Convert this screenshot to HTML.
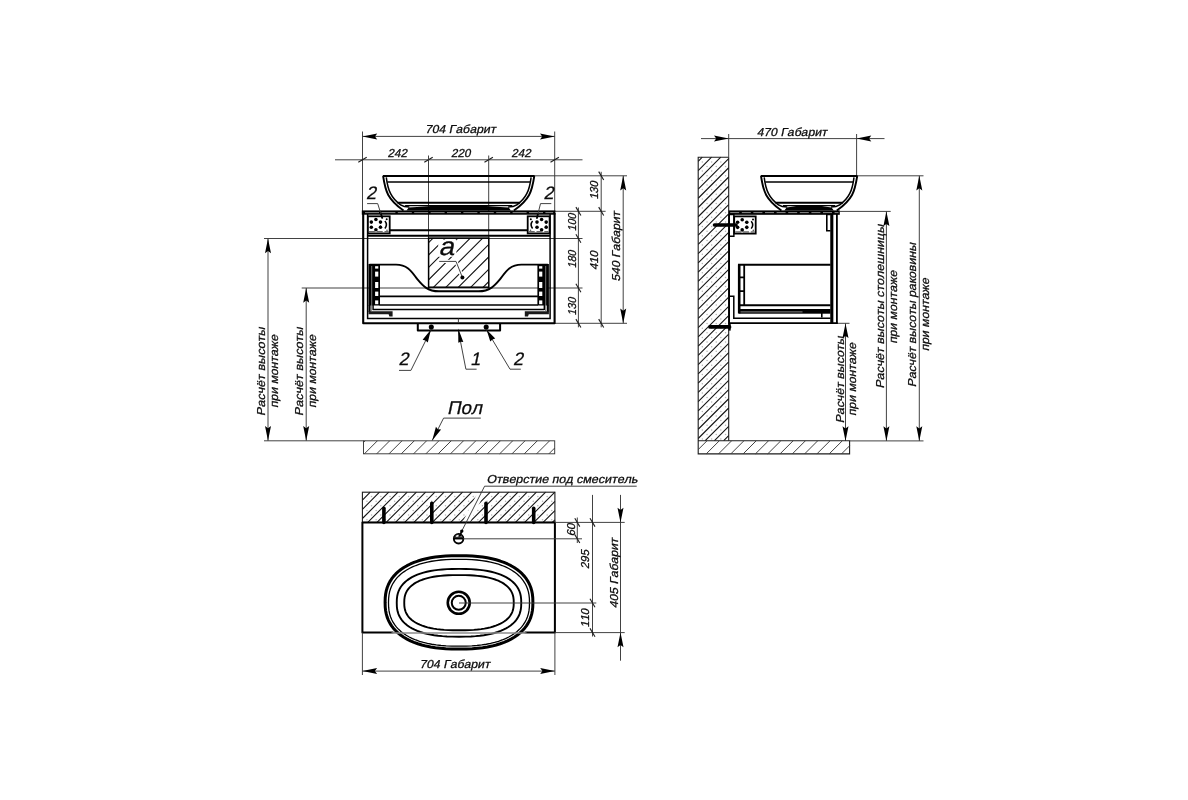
<!DOCTYPE html>
<html lang="ru">
<head>
<meta charset="utf-8">
<title>Схема монтажа тумбы с раковиной</title>
<style>
html,body{margin:0;padding:0;background:#fff;}
body{width:1188px;height:800px;overflow:hidden;}
svg{display:block;will-change:transform;}
text{font-family:"Liberation Sans",sans-serif;fill:#0c0c0c;stroke:#0c0c0c;stroke-width:.28px;font-kerning:none;}
.t{stroke:#383838;stroke-width:.95;fill:none;}
.k{stroke:#1c1c1c;stroke-width:1.1;fill:none;}
.h{stroke:#151515;stroke-width:1.1;fill:none;}
.m{stroke:#000;stroke-width:1.4;fill:none;}
.b{stroke:#000;stroke-width:2;fill:none;stroke-linejoin:round;}
.bb{stroke:#000;stroke-width:2.4;fill:none;stroke-linejoin:round;stroke-linecap:round;}
.f{fill:#000;stroke:none;}
.w{fill:#fff;stroke:none;}
.dot{fill:#b4b4b4;stroke:none;}
</style>
</head>
<body>
<svg width="1188" height="800" viewBox="0 0 1188 800">
<rect width="1188" height="800" fill="#fff"/>
<path class="t" d="M362.50 131.50L362.50 211.00" />
<path class="t" d="M554.70 131.50L554.70 211.00" />
<path class="t" d="M362.50 136.40L554.70 136.40" />
<path class="f" d="M362.50 136.40L377.20 139.40L375.00 136.40L377.20 133.40Z"/>
<path class="f" d="M554.70 136.40L540.00 133.40L542.21 136.40L540.00 139.40Z"/>
<text transform="translate(424.90 133.20) skewX(-12)" font-size="11.5" text-anchor="start" textLength="70.70" lengthAdjust="spacingAndGlyphs" >704 Габарит</text>
<path class="t" d="M335.00 159.80L582.50 159.80" />
<path class="k" d="M358.30 162.30L366.70 157.30" />
<path class="k" d="M424.30 162.30L432.70 157.30" />
<path class="k" d="M484.50 162.30L492.90 157.30" />
<path class="k" d="M550.50 162.30L558.90 157.30" />
<text transform="translate(387.40 157.20) skewX(-12)" font-size="11.5" text-anchor="start" textLength="19.50" lengthAdjust="spacingAndGlyphs" >242</text>
<text transform="translate(451.10 157.20) skewX(-12)" font-size="11.5" text-anchor="start" textLength="19.50" lengthAdjust="spacingAndGlyphs" >220</text>
<text transform="translate(511.20 157.20) skewX(-12)" font-size="11.5" text-anchor="start" textLength="19.50" lengthAdjust="spacingAndGlyphs" >242</text>
<path class="t" d="M428.50 155.50L428.50 238.50" />
<path class="t" d="M488.70 155.50L488.70 238.50" />
<path class="t" d="M534.00 175.80L627.00 175.80" />
<path class="t" d="M554.70 211.30L605.60 211.30" />
<path class="t" d="M264.00 238.50L582.50 238.50" />
<path class="t" d="M301.70 288.00L582.50 288.00" />
<path class="t" d="M554.70 323.30L627.00 323.30" />
<path class="t" d="M578.40 207.50L578.40 327.30" />
<path class="k" d="M575.90 207.10L580.90 215.50" />
<path class="k" d="M575.90 234.30L580.90 242.70" />
<path class="k" d="M575.90 283.80L580.90 292.20" />
<path class="k" d="M575.90 319.10L580.90 327.50" />
<path class="t" d="M601.20 171.80L601.20 327.30" />
<path class="k" d="M598.70 171.60L603.70 180.00" />
<path class="k" d="M598.70 207.10L603.70 215.50" />
<path class="k" d="M598.70 319.10L603.70 327.50" />
<path class="t" d="M623.20 175.80L623.20 323.30" />
<path class="f" d="M623.20 175.80L620.20 190.50L623.20 188.30L626.20 190.50Z"/>
<path class="f" d="M623.20 323.30L626.20 308.60L623.20 310.81L620.20 308.60Z"/>
<text transform="translate(598.30 199.60) rotate(-90) skewX(-12)" font-size="11.5" text-anchor="start" textLength="18.30" lengthAdjust="spacingAndGlyphs" >130</text>
<text transform="translate(576.10 231.20) rotate(-90) skewX(-12)" font-size="11.5" text-anchor="start" textLength="17.70" lengthAdjust="spacingAndGlyphs" >100</text>
<text transform="translate(576.10 268.20) rotate(-90) skewX(-12)" font-size="11.5" text-anchor="start" textLength="17.70" lengthAdjust="spacingAndGlyphs" >180</text>
<text transform="translate(576.10 315.40) rotate(-90) skewX(-12)" font-size="11.5" text-anchor="start" textLength="17.70" lengthAdjust="spacingAndGlyphs" >130</text>
<text transform="translate(598.30 270.00) rotate(-90) skewX(-12)" font-size="11.5" text-anchor="start" textLength="18.80" lengthAdjust="spacingAndGlyphs" >410</text>
<text transform="translate(620.00 281.60) rotate(-90) skewX(-12)" font-size="11.5" text-anchor="start" textLength="70.00" lengthAdjust="spacingAndGlyphs" >540 Габарит</text>
<path class="t" d="M268.00 238.50L268.00 440.80" />
<path class="f" d="M268.00 238.50L265.00 253.20L268.00 251.00L271.00 253.20Z"/>
<path class="f" d="M268.00 440.80L271.00 426.10L268.00 428.31L265.00 426.10Z"/>
<path class="t" d="M306.20 288.00L306.20 440.80" />
<path class="f" d="M306.20 288.00L303.20 302.70L306.20 300.50L309.20 302.70Z"/>
<path class="f" d="M306.20 440.80L309.20 426.10L306.20 428.31L303.20 426.10Z"/>
<text transform="translate(265.30 416.00) rotate(-90) skewX(-12)" font-size="11.5" text-anchor="start" textLength="88.60" lengthAdjust="spacingAndGlyphs" >Расчёт высоты</text>
<text transform="translate(277.70 408.00) rotate(-90) skewX(-12)" font-size="11.5" text-anchor="start" textLength="73.00" lengthAdjust="spacingAndGlyphs" >при монтаже</text>
<text transform="translate(303.40 416.00) rotate(-90) skewX(-12)" font-size="11.5" text-anchor="start" textLength="88.60" lengthAdjust="spacingAndGlyphs" >Расчёт высоты</text>
<text transform="translate(316.00 408.00) rotate(-90) skewX(-12)" font-size="11.5" text-anchor="start" textLength="73.00" lengthAdjust="spacingAndGlyphs" >при монтаже</text>
<path class="t" d="M264.00 440.80L363.50 440.80" />
<rect class="t" x="363.50" y="440.80" width="191.20" height="13.00" />
<path class="t" d="M363.50 442.40L365.10 440.80M364.40 453.80L377.40 440.80M376.70 453.80L389.70 440.80M389.00 453.80L402.00 440.80M401.30 453.80L414.30 440.80M413.60 453.80L426.60 440.80M425.90 453.80L438.90 440.80M438.20 453.80L451.20 440.80M450.50 453.80L463.50 440.80M462.80 453.80L475.80 440.80M475.10 453.80L488.10 440.80M487.40 453.80L500.40 440.80M499.70 453.80L512.70 440.80M512.00 453.80L525.00 440.80M524.30 453.80L537.30 440.80M536.60 453.80L549.60 440.80M548.90 453.80L554.70 448.00"/>
<text transform="translate(447.00 414.20) skewX(-12)" font-size="18.5" text-anchor="start" textLength="35.00" lengthAdjust="spacingAndGlyphs" >Пол</text>
<path class="t" d="M480.8 418.1L443.6 418.1L432.2 440.6" />
<path class="f" d="M432.20 440.60L441.11 429.42L437.89 429.36L435.94 426.80Z"/>
<clipPath id="ca"><rect x="428.6" y="238" width="60.2" height="49.2"/></clipPath>
<g clip-path="url(#ca)">
<path class="h" d="M420.00 238.80L428.80 230.00M420.00 251.20L441.20 230.00M420.00 263.60L453.60 230.00M420.00 276.00L466.00 230.00M420.00 288.40L478.40 230.00M425.80 295.00L490.80 230.00M438.20 295.00L495.00 238.20M450.60 295.00L495.00 250.60M463.00 295.00L495.00 263.00M475.40 295.00L495.00 275.40M487.80 295.00L495.00 287.80"/>
<rect class="w" x="438.2" y="239.6" width="18.2" height="17.2"/>
<path d="M439.2 261.4L456 261.4L462.4 277.4" stroke="#fff" stroke-width="3.4" fill="none"/>
</g>
<rect class="m" x="428.60" y="238.10" width="60.20" height="49.10" style="stroke-width:1.5"/>
<text transform="translate(438.40 254.50) skewX(-12)" font-size="25.5" text-anchor="start" textLength="15.40" lengthAdjust="spacingAndGlyphs" >a</text>
<path class="t" d="M439.2 261.4L456 261.4L462.4 277.4" />
<circle class="f" cx="462.40" cy="277.40" r="2.00" />
<path class="b" d="M383.10 176.00C385.50 191.80 387.70 199.30 403.50 210.60" style="stroke-width:1.9"/>
<path class="m" d="M386.30 177.30C387.90 190.80 391.50 198.40 400.50 204.80C402.80 206.40 405.30 207.10 409.30 207.10" style="stroke-width:1.5"/>
<path class="b" d="M534.30 176.00C531.90 191.80 529.70 199.30 513.90 210.60" style="stroke-width:1.9"/>
<path class="m" d="M531.10 177.30C529.50 190.80 525.90 198.40 516.90 204.80C514.60 206.40 512.10 207.10 508.10 207.10" style="stroke-width:1.5"/>
<path class="b" d="M382.80 176.00L534.60 176.00" style="stroke-width:2.2;stroke-linecap:butt"/>
<path class="m" d="M387.30 181.90L530.10 181.90" style="stroke-width:1.5"/>
<path class="m" d="M397.50 202.70L519.90 202.70" style="stroke-width:1.9"/>
<path class="m" d="M405.10 205.60L512.30 205.60" style="stroke-width:1.3"/>
<path class="f" d="M406.50 210.60L408.70 207.60C432.60 206.00 443.04 205.00 458.70 205.00C474.36 205.00 484.80 206.00 508.70 207.60L510.90 210.60Z" />
<rect class="f" x="361.80" y="210.40" width="193.60" height="4.30" />
<path class="t" d="M364.0 212.6L553.2 212.6" style="stroke:#8a8a8a;stroke-width:1;stroke-dasharray:14 2.4;stroke-dashoffset:-1"/>
<path class="b" d="M363.2 213L363.2 323.2L554.6 323.2L554.6 213" style="stroke-width:2.1"/>
<path class="m" d="M367.6 214L367.6 318.5L550.1 318.5L550.1 214" style="stroke-width:1.5"/>
<path class="m" d="M368.00 235.80L550.00 235.80" style="stroke-width:1.9"/>
<path class="m" d="M389.70 230.30L527.70 230.30" style="stroke-width:1.9"/>
<rect class="m" x="367.90" y="216.30" width="21.80" height="17.10" style="fill:#fff;stroke-width:1.8"/>
<circle class="f" cx="375.90" cy="229.75" r="1.80" />
<circle class="f" cx="380.49" cy="227.20" r="1.80" />
<circle class="f" cx="380.49" cy="222.10" r="1.80" />
<circle class="f" cx="375.90" cy="219.55" r="1.80" />
<circle class="f" cx="371.31" cy="222.10" r="1.80" />
<circle class="f" cx="371.31" cy="227.20" r="1.80" />
<path class="m" style="stroke-width:1.2" d="M380.49 227.20L380.49 222.10" stroke-dasharray="1.6 2 1.6 20"/>
<path class="m" style="stroke-width:1.5" d="M384.90 221.05Q387.90 224.65 384.90 228.45"/>
<circle class="f" cx="386.70" cy="219.25" r="1.00" />
<circle class="f" cx="387.00" cy="230.25" r="0.80" style="fill:#555"/>
<path d="M368.90 231.80L388.70 231.80" stroke="#6a6a6a" stroke-width="1.5" stroke-dasharray="6 1.8" fill="none"/>
<rect class="m" x="527.70" y="216.30" width="21.90" height="17.10" style="fill:#fff;stroke-width:1.8"/>
<circle class="f" cx="541.60" cy="229.75" r="1.80" />
<circle class="f" cx="546.19" cy="227.20" r="1.80" />
<circle class="f" cx="546.19" cy="222.10" r="1.80" />
<circle class="f" cx="541.60" cy="219.55" r="1.80" />
<circle class="f" cx="537.01" cy="222.10" r="1.80" />
<circle class="f" cx="537.01" cy="227.20" r="1.80" />
<path class="m" style="stroke-width:1.2" d="M546.19 227.20L546.19 222.10" stroke-dasharray="1.6 2 1.6 20"/>
<path class="m" style="stroke-width:1.5" d="M532.60 221.05Q529.60 224.65 532.60 228.45"/>
<circle class="f" cx="530.80" cy="219.25" r="1.00" />
<circle class="f" cx="530.50" cy="230.25" r="0.80" style="fill:#555"/>
<path d="M528.70 231.80L548.60 231.80" stroke="#6a6a6a" stroke-width="1.5" stroke-dasharray="6 1.8" fill="none"/>
<text transform="translate(366.00 199.00) skewX(-12)" font-size="18" text-anchor="start" >2</text>
<path class="t" d="M367.1 203.6L377.7 203.6L382.4 218.6" />
<path class="m" d="M380.90 213.80L382.40 218.60" style="stroke-width:1.8"/>
<text transform="translate(543.50 199.00) skewX(-12)" font-size="18" text-anchor="start" >2</text>
<path class="t" d="M551.3 203.6L540.5 203.6L536.8 218.6" />
<path class="m" d="M538.00 213.80L536.80 218.60" style="stroke-width:1.8"/>
<path class="b" d="M369.5 264.6L396 264.6C409 264.6 413 274 417.5 279.4C422 284.8 427 291.3 439 291.3L478.4 291.3C490.4 291.3 495.4 284.8 499.9 279.4C504.4 274 508.4 264.6 521.4 264.6L547.9 264.6" style="stroke-width:1.9"/>
<rect class="f" x="368.50" y="264.00" width="11.50" height="41.50" />
<rect class="f" x="371.20" y="266.00" width="1.00" height="45.00" style="fill:#777"/>
<rect class="w" x="375.10" y="266.20" width="3.20" height="2.40" />
<rect class="w" x="375.10" y="271.60" width="3.20" height="5.00" />
<rect class="w" x="375.10" y="282.00" width="3.20" height="6.00" />
<rect class="w" x="375.10" y="291.60" width="3.20" height="4.40" />
<rect class="w" x="375.10" y="300.40" width="3.20" height="3.80" />
<rect class="f" x="368.50" y="305.00" width="2.10" height="7.00" />
<rect class="f" x="372.40" y="305.00" width="1.40" height="5.00" />
<rect class="f" x="537.40" y="264.00" width="11.50" height="41.50" />
<rect class="f" x="545.20" y="266.00" width="1.00" height="45.00" style="fill:#777"/>
<rect class="w" x="539.10" y="266.20" width="3.20" height="2.40" />
<rect class="w" x="539.10" y="271.60" width="3.20" height="5.00" />
<rect class="w" x="539.10" y="282.00" width="3.20" height="6.00" />
<rect class="w" x="539.10" y="291.60" width="3.20" height="4.40" />
<rect class="w" x="539.10" y="300.40" width="3.20" height="3.80" />
<rect class="f" x="546.80" y="305.00" width="2.10" height="7.00" />
<rect class="f" x="543.60" y="305.00" width="1.40" height="5.00" />
<path class="b" d="M379.50 296.30L537.90 296.30" style="stroke-width:1.7"/>
<path class="b" d="M379.50 305.00L537.90 305.00" style="stroke-width:1.7"/>
<path class="b" d="M373.00 309.50L544.40 309.50" style="stroke-width:1.7"/>
<path class="f" d="M368.5 311.2L392.6 311.2L392.6 316.6L389.4 316.6L388.6 314.2L368.5 314.2Z" style="fill:#1a1a1a"/>
<path class="f" d="M548.9 311.2L524.8 311.2L524.8 316.6L528 316.6L528.8 314.2L548.9 314.2Z" style="fill:#1a1a1a"/>
<path class="b" d="M417.8 323.2L417.8 330.6L500.1 330.6L500.1 323.2" style="stroke-width:2"/>
<circle class="f" cx="431.30" cy="327.10" r="2.55" />
<circle class="f" cx="486.20" cy="327.10" r="2.55" />
<path class="t" d="M458.40 318.50L458.40 322.50" />
<path class="t" d="M399 370.4L410.9 370.4L431.2 329.5" />
<path class="f" d="M430.80 329.80L422.60 339.80L425.48 340.52L427.80 342.38Z"/>
<text transform="translate(398.50 365.00) skewX(-12)" font-size="18" text-anchor="start" >2</text>
<path class="t" d="M476.6 369.2L465.9 369.2L458.4 330.8" />
<path class="f" d="M458.20 328.40L458.31 342.83L460.69 341.66L463.32 341.89Z"/>
<text transform="translate(470.30 365.00) skewX(-12)" font-size="18" text-anchor="start" >1</text>
<path class="t" d="M520.8 369.2L510 369.2L486.3 329.5" />
<path class="f" d="M486.60 329.80L490.26 341.59L492.44 339.59L495.24 338.62Z"/>
<text transform="translate(513.00 365.00) skewX(-12)" font-size="18" text-anchor="start" >2</text>
<clipPath id="cw"><rect x="698.2" y="157.2" width="30.5" height="283.5"/></clipPath>
<path class="dot" d="M701.6 161.9a0.75 0.75 0 1 0 1.5 0a0.75 0.75 0 1 0 -1.5 0M710.9 161.9a0.75 0.75 0 1 0 1.5 0a0.75 0.75 0 1 0 -1.5 0M720.1 161.9a0.75 0.75 0 1 0 1.5 0a0.75 0.75 0 1 0 -1.5 0M706.3 166.5a0.75 0.75 0 1 0 1.5 0a0.75 0.75 0 1 0 -1.5 0M715.5 166.5a0.75 0.75 0 1 0 1.5 0a0.75 0.75 0 1 0 -1.5 0M724.8 166.5a0.75 0.75 0 1 0 1.5 0a0.75 0.75 0 1 0 -1.5 0M701.6 171.1a0.75 0.75 0 1 0 1.5 0a0.75 0.75 0 1 0 -1.5 0M710.9 171.1a0.75 0.75 0 1 0 1.5 0a0.75 0.75 0 1 0 -1.5 0M720.1 171.1a0.75 0.75 0 1 0 1.5 0a0.75 0.75 0 1 0 -1.5 0M706.3 175.8a0.75 0.75 0 1 0 1.5 0a0.75 0.75 0 1 0 -1.5 0M715.5 175.8a0.75 0.75 0 1 0 1.5 0a0.75 0.75 0 1 0 -1.5 0M724.8 175.8a0.75 0.75 0 1 0 1.5 0a0.75 0.75 0 1 0 -1.5 0M701.6 180.4a0.75 0.75 0 1 0 1.5 0a0.75 0.75 0 1 0 -1.5 0M710.9 180.4a0.75 0.75 0 1 0 1.5 0a0.75 0.75 0 1 0 -1.5 0M720.1 180.4a0.75 0.75 0 1 0 1.5 0a0.75 0.75 0 1 0 -1.5 0M706.3 185.0a0.75 0.75 0 1 0 1.5 0a0.75 0.75 0 1 0 -1.5 0M715.5 185.0a0.75 0.75 0 1 0 1.5 0a0.75 0.75 0 1 0 -1.5 0M724.8 185.0a0.75 0.75 0 1 0 1.5 0a0.75 0.75 0 1 0 -1.5 0M701.6 189.6a0.75 0.75 0 1 0 1.5 0a0.75 0.75 0 1 0 -1.5 0M710.9 189.6a0.75 0.75 0 1 0 1.5 0a0.75 0.75 0 1 0 -1.5 0M720.1 189.6a0.75 0.75 0 1 0 1.5 0a0.75 0.75 0 1 0 -1.5 0M706.3 194.2a0.75 0.75 0 1 0 1.5 0a0.75 0.75 0 1 0 -1.5 0M715.5 194.2a0.75 0.75 0 1 0 1.5 0a0.75 0.75 0 1 0 -1.5 0M724.8 194.2a0.75 0.75 0 1 0 1.5 0a0.75 0.75 0 1 0 -1.5 0M701.6 198.9a0.75 0.75 0 1 0 1.5 0a0.75 0.75 0 1 0 -1.5 0M710.9 198.9a0.75 0.75 0 1 0 1.5 0a0.75 0.75 0 1 0 -1.5 0M720.1 198.9a0.75 0.75 0 1 0 1.5 0a0.75 0.75 0 1 0 -1.5 0M706.3 203.5a0.75 0.75 0 1 0 1.5 0a0.75 0.75 0 1 0 -1.5 0M715.5 203.5a0.75 0.75 0 1 0 1.5 0a0.75 0.75 0 1 0 -1.5 0M724.8 203.5a0.75 0.75 0 1 0 1.5 0a0.75 0.75 0 1 0 -1.5 0M701.6 208.1a0.75 0.75 0 1 0 1.5 0a0.75 0.75 0 1 0 -1.5 0M710.9 208.1a0.75 0.75 0 1 0 1.5 0a0.75 0.75 0 1 0 -1.5 0M720.1 208.1a0.75 0.75 0 1 0 1.5 0a0.75 0.75 0 1 0 -1.5 0M706.3 212.7a0.75 0.75 0 1 0 1.5 0a0.75 0.75 0 1 0 -1.5 0M715.5 212.7a0.75 0.75 0 1 0 1.5 0a0.75 0.75 0 1 0 -1.5 0M724.8 212.7a0.75 0.75 0 1 0 1.5 0a0.75 0.75 0 1 0 -1.5 0M701.6 217.3a0.75 0.75 0 1 0 1.5 0a0.75 0.75 0 1 0 -1.5 0M710.9 217.3a0.75 0.75 0 1 0 1.5 0a0.75 0.75 0 1 0 -1.5 0M720.1 217.3a0.75 0.75 0 1 0 1.5 0a0.75 0.75 0 1 0 -1.5 0M706.3 222.0a0.75 0.75 0 1 0 1.5 0a0.75 0.75 0 1 0 -1.5 0M715.5 222.0a0.75 0.75 0 1 0 1.5 0a0.75 0.75 0 1 0 -1.5 0M724.8 222.0a0.75 0.75 0 1 0 1.5 0a0.75 0.75 0 1 0 -1.5 0M701.6 226.6a0.75 0.75 0 1 0 1.5 0a0.75 0.75 0 1 0 -1.5 0M710.9 226.6a0.75 0.75 0 1 0 1.5 0a0.75 0.75 0 1 0 -1.5 0M720.1 226.6a0.75 0.75 0 1 0 1.5 0a0.75 0.75 0 1 0 -1.5 0M706.3 231.2a0.75 0.75 0 1 0 1.5 0a0.75 0.75 0 1 0 -1.5 0M715.5 231.2a0.75 0.75 0 1 0 1.5 0a0.75 0.75 0 1 0 -1.5 0M724.8 231.2a0.75 0.75 0 1 0 1.5 0a0.75 0.75 0 1 0 -1.5 0M701.6 235.8a0.75 0.75 0 1 0 1.5 0a0.75 0.75 0 1 0 -1.5 0M710.9 235.8a0.75 0.75 0 1 0 1.5 0a0.75 0.75 0 1 0 -1.5 0M720.1 235.8a0.75 0.75 0 1 0 1.5 0a0.75 0.75 0 1 0 -1.5 0M706.3 240.4a0.75 0.75 0 1 0 1.5 0a0.75 0.75 0 1 0 -1.5 0M715.5 240.4a0.75 0.75 0 1 0 1.5 0a0.75 0.75 0 1 0 -1.5 0M724.8 240.4a0.75 0.75 0 1 0 1.5 0a0.75 0.75 0 1 0 -1.5 0M701.6 245.1a0.75 0.75 0 1 0 1.5 0a0.75 0.75 0 1 0 -1.5 0M710.9 245.1a0.75 0.75 0 1 0 1.5 0a0.75 0.75 0 1 0 -1.5 0M720.1 245.1a0.75 0.75 0 1 0 1.5 0a0.75 0.75 0 1 0 -1.5 0M706.3 249.7a0.75 0.75 0 1 0 1.5 0a0.75 0.75 0 1 0 -1.5 0M715.5 249.7a0.75 0.75 0 1 0 1.5 0a0.75 0.75 0 1 0 -1.5 0M724.8 249.7a0.75 0.75 0 1 0 1.5 0a0.75 0.75 0 1 0 -1.5 0M701.6 254.3a0.75 0.75 0 1 0 1.5 0a0.75 0.75 0 1 0 -1.5 0M710.9 254.3a0.75 0.75 0 1 0 1.5 0a0.75 0.75 0 1 0 -1.5 0M720.1 254.3a0.75 0.75 0 1 0 1.5 0a0.75 0.75 0 1 0 -1.5 0M706.3 258.9a0.75 0.75 0 1 0 1.5 0a0.75 0.75 0 1 0 -1.5 0M715.5 258.9a0.75 0.75 0 1 0 1.5 0a0.75 0.75 0 1 0 -1.5 0M724.8 258.9a0.75 0.75 0 1 0 1.5 0a0.75 0.75 0 1 0 -1.5 0M701.6 263.5a0.75 0.75 0 1 0 1.5 0a0.75 0.75 0 1 0 -1.5 0M710.9 263.5a0.75 0.75 0 1 0 1.5 0a0.75 0.75 0 1 0 -1.5 0M720.1 263.5a0.75 0.75 0 1 0 1.5 0a0.75 0.75 0 1 0 -1.5 0M706.3 268.2a0.75 0.75 0 1 0 1.5 0a0.75 0.75 0 1 0 -1.5 0M715.5 268.2a0.75 0.75 0 1 0 1.5 0a0.75 0.75 0 1 0 -1.5 0M724.8 268.2a0.75 0.75 0 1 0 1.5 0a0.75 0.75 0 1 0 -1.5 0M701.6 272.8a0.75 0.75 0 1 0 1.5 0a0.75 0.75 0 1 0 -1.5 0M710.9 272.8a0.75 0.75 0 1 0 1.5 0a0.75 0.75 0 1 0 -1.5 0M720.1 272.8a0.75 0.75 0 1 0 1.5 0a0.75 0.75 0 1 0 -1.5 0M706.3 277.4a0.75 0.75 0 1 0 1.5 0a0.75 0.75 0 1 0 -1.5 0M715.5 277.4a0.75 0.75 0 1 0 1.5 0a0.75 0.75 0 1 0 -1.5 0M724.8 277.4a0.75 0.75 0 1 0 1.5 0a0.75 0.75 0 1 0 -1.5 0M701.6 282.0a0.75 0.75 0 1 0 1.5 0a0.75 0.75 0 1 0 -1.5 0M710.9 282.0a0.75 0.75 0 1 0 1.5 0a0.75 0.75 0 1 0 -1.5 0M720.1 282.0a0.75 0.75 0 1 0 1.5 0a0.75 0.75 0 1 0 -1.5 0M706.3 286.6a0.75 0.75 0 1 0 1.5 0a0.75 0.75 0 1 0 -1.5 0M715.5 286.6a0.75 0.75 0 1 0 1.5 0a0.75 0.75 0 1 0 -1.5 0M724.8 286.6a0.75 0.75 0 1 0 1.5 0a0.75 0.75 0 1 0 -1.5 0M701.6 291.3a0.75 0.75 0 1 0 1.5 0a0.75 0.75 0 1 0 -1.5 0M710.9 291.3a0.75 0.75 0 1 0 1.5 0a0.75 0.75 0 1 0 -1.5 0M720.1 291.3a0.75 0.75 0 1 0 1.5 0a0.75 0.75 0 1 0 -1.5 0M706.3 295.9a0.75 0.75 0 1 0 1.5 0a0.75 0.75 0 1 0 -1.5 0M715.5 295.9a0.75 0.75 0 1 0 1.5 0a0.75 0.75 0 1 0 -1.5 0M724.8 295.9a0.75 0.75 0 1 0 1.5 0a0.75 0.75 0 1 0 -1.5 0M701.6 300.5a0.75 0.75 0 1 0 1.5 0a0.75 0.75 0 1 0 -1.5 0M710.9 300.5a0.75 0.75 0 1 0 1.5 0a0.75 0.75 0 1 0 -1.5 0M720.1 300.5a0.75 0.75 0 1 0 1.5 0a0.75 0.75 0 1 0 -1.5 0M706.3 305.1a0.75 0.75 0 1 0 1.5 0a0.75 0.75 0 1 0 -1.5 0M715.5 305.1a0.75 0.75 0 1 0 1.5 0a0.75 0.75 0 1 0 -1.5 0M724.8 305.1a0.75 0.75 0 1 0 1.5 0a0.75 0.75 0 1 0 -1.5 0M701.6 309.7a0.75 0.75 0 1 0 1.5 0a0.75 0.75 0 1 0 -1.5 0M710.9 309.7a0.75 0.75 0 1 0 1.5 0a0.75 0.75 0 1 0 -1.5 0M720.1 309.7a0.75 0.75 0 1 0 1.5 0a0.75 0.75 0 1 0 -1.5 0M706.3 314.4a0.75 0.75 0 1 0 1.5 0a0.75 0.75 0 1 0 -1.5 0M715.5 314.4a0.75 0.75 0 1 0 1.5 0a0.75 0.75 0 1 0 -1.5 0M724.8 314.4a0.75 0.75 0 1 0 1.5 0a0.75 0.75 0 1 0 -1.5 0M701.6 319.0a0.75 0.75 0 1 0 1.5 0a0.75 0.75 0 1 0 -1.5 0M710.9 319.0a0.75 0.75 0 1 0 1.5 0a0.75 0.75 0 1 0 -1.5 0M720.1 319.0a0.75 0.75 0 1 0 1.5 0a0.75 0.75 0 1 0 -1.5 0M706.3 323.6a0.75 0.75 0 1 0 1.5 0a0.75 0.75 0 1 0 -1.5 0M715.5 323.6a0.75 0.75 0 1 0 1.5 0a0.75 0.75 0 1 0 -1.5 0M724.8 323.6a0.75 0.75 0 1 0 1.5 0a0.75 0.75 0 1 0 -1.5 0M701.6 328.2a0.75 0.75 0 1 0 1.5 0a0.75 0.75 0 1 0 -1.5 0M710.9 328.2a0.75 0.75 0 1 0 1.5 0a0.75 0.75 0 1 0 -1.5 0M720.1 328.2a0.75 0.75 0 1 0 1.5 0a0.75 0.75 0 1 0 -1.5 0M706.3 332.8a0.75 0.75 0 1 0 1.5 0a0.75 0.75 0 1 0 -1.5 0M715.5 332.8a0.75 0.75 0 1 0 1.5 0a0.75 0.75 0 1 0 -1.5 0M724.8 332.8a0.75 0.75 0 1 0 1.5 0a0.75 0.75 0 1 0 -1.5 0M701.6 337.5a0.75 0.75 0 1 0 1.5 0a0.75 0.75 0 1 0 -1.5 0M710.9 337.5a0.75 0.75 0 1 0 1.5 0a0.75 0.75 0 1 0 -1.5 0M720.1 337.5a0.75 0.75 0 1 0 1.5 0a0.75 0.75 0 1 0 -1.5 0M706.3 342.1a0.75 0.75 0 1 0 1.5 0a0.75 0.75 0 1 0 -1.5 0M715.5 342.1a0.75 0.75 0 1 0 1.5 0a0.75 0.75 0 1 0 -1.5 0M724.8 342.1a0.75 0.75 0 1 0 1.5 0a0.75 0.75 0 1 0 -1.5 0M701.6 346.7a0.75 0.75 0 1 0 1.5 0a0.75 0.75 0 1 0 -1.5 0M710.9 346.7a0.75 0.75 0 1 0 1.5 0a0.75 0.75 0 1 0 -1.5 0M720.1 346.7a0.75 0.75 0 1 0 1.5 0a0.75 0.75 0 1 0 -1.5 0M706.3 351.3a0.75 0.75 0 1 0 1.5 0a0.75 0.75 0 1 0 -1.5 0M715.5 351.3a0.75 0.75 0 1 0 1.5 0a0.75 0.75 0 1 0 -1.5 0M724.8 351.3a0.75 0.75 0 1 0 1.5 0a0.75 0.75 0 1 0 -1.5 0M701.6 355.9a0.75 0.75 0 1 0 1.5 0a0.75 0.75 0 1 0 -1.5 0M710.9 355.9a0.75 0.75 0 1 0 1.5 0a0.75 0.75 0 1 0 -1.5 0M720.1 355.9a0.75 0.75 0 1 0 1.5 0a0.75 0.75 0 1 0 -1.5 0M706.3 360.6a0.75 0.75 0 1 0 1.5 0a0.75 0.75 0 1 0 -1.5 0M715.5 360.6a0.75 0.75 0 1 0 1.5 0a0.75 0.75 0 1 0 -1.5 0M724.8 360.6a0.75 0.75 0 1 0 1.5 0a0.75 0.75 0 1 0 -1.5 0M701.6 365.2a0.75 0.75 0 1 0 1.5 0a0.75 0.75 0 1 0 -1.5 0M710.9 365.2a0.75 0.75 0 1 0 1.5 0a0.75 0.75 0 1 0 -1.5 0M720.1 365.2a0.75 0.75 0 1 0 1.5 0a0.75 0.75 0 1 0 -1.5 0M706.3 369.8a0.75 0.75 0 1 0 1.5 0a0.75 0.75 0 1 0 -1.5 0M715.5 369.8a0.75 0.75 0 1 0 1.5 0a0.75 0.75 0 1 0 -1.5 0M724.8 369.8a0.75 0.75 0 1 0 1.5 0a0.75 0.75 0 1 0 -1.5 0M701.6 374.4a0.75 0.75 0 1 0 1.5 0a0.75 0.75 0 1 0 -1.5 0M710.9 374.4a0.75 0.75 0 1 0 1.5 0a0.75 0.75 0 1 0 -1.5 0M720.1 374.4a0.75 0.75 0 1 0 1.5 0a0.75 0.75 0 1 0 -1.5 0M706.3 379.0a0.75 0.75 0 1 0 1.5 0a0.75 0.75 0 1 0 -1.5 0M715.5 379.0a0.75 0.75 0 1 0 1.5 0a0.75 0.75 0 1 0 -1.5 0M724.8 379.0a0.75 0.75 0 1 0 1.5 0a0.75 0.75 0 1 0 -1.5 0M701.6 383.7a0.75 0.75 0 1 0 1.5 0a0.75 0.75 0 1 0 -1.5 0M710.9 383.7a0.75 0.75 0 1 0 1.5 0a0.75 0.75 0 1 0 -1.5 0M720.1 383.7a0.75 0.75 0 1 0 1.5 0a0.75 0.75 0 1 0 -1.5 0M706.3 388.3a0.75 0.75 0 1 0 1.5 0a0.75 0.75 0 1 0 -1.5 0M715.5 388.3a0.75 0.75 0 1 0 1.5 0a0.75 0.75 0 1 0 -1.5 0M724.8 388.3a0.75 0.75 0 1 0 1.5 0a0.75 0.75 0 1 0 -1.5 0M701.6 392.9a0.75 0.75 0 1 0 1.5 0a0.75 0.75 0 1 0 -1.5 0M710.9 392.9a0.75 0.75 0 1 0 1.5 0a0.75 0.75 0 1 0 -1.5 0M720.1 392.9a0.75 0.75 0 1 0 1.5 0a0.75 0.75 0 1 0 -1.5 0M706.3 397.5a0.75 0.75 0 1 0 1.5 0a0.75 0.75 0 1 0 -1.5 0M715.5 397.5a0.75 0.75 0 1 0 1.5 0a0.75 0.75 0 1 0 -1.5 0M724.8 397.5a0.75 0.75 0 1 0 1.5 0a0.75 0.75 0 1 0 -1.5 0M701.6 402.1a0.75 0.75 0 1 0 1.5 0a0.75 0.75 0 1 0 -1.5 0M710.9 402.1a0.75 0.75 0 1 0 1.5 0a0.75 0.75 0 1 0 -1.5 0M720.1 402.1a0.75 0.75 0 1 0 1.5 0a0.75 0.75 0 1 0 -1.5 0M706.3 406.8a0.75 0.75 0 1 0 1.5 0a0.75 0.75 0 1 0 -1.5 0M715.5 406.8a0.75 0.75 0 1 0 1.5 0a0.75 0.75 0 1 0 -1.5 0M724.8 406.8a0.75 0.75 0 1 0 1.5 0a0.75 0.75 0 1 0 -1.5 0M701.6 411.4a0.75 0.75 0 1 0 1.5 0a0.75 0.75 0 1 0 -1.5 0M710.9 411.4a0.75 0.75 0 1 0 1.5 0a0.75 0.75 0 1 0 -1.5 0M720.1 411.4a0.75 0.75 0 1 0 1.5 0a0.75 0.75 0 1 0 -1.5 0M706.3 416.0a0.75 0.75 0 1 0 1.5 0a0.75 0.75 0 1 0 -1.5 0M715.5 416.0a0.75 0.75 0 1 0 1.5 0a0.75 0.75 0 1 0 -1.5 0M724.8 416.0a0.75 0.75 0 1 0 1.5 0a0.75 0.75 0 1 0 -1.5 0M701.6 420.6a0.75 0.75 0 1 0 1.5 0a0.75 0.75 0 1 0 -1.5 0M710.9 420.6a0.75 0.75 0 1 0 1.5 0a0.75 0.75 0 1 0 -1.5 0M720.1 420.6a0.75 0.75 0 1 0 1.5 0a0.75 0.75 0 1 0 -1.5 0M706.3 425.2a0.75 0.75 0 1 0 1.5 0a0.75 0.75 0 1 0 -1.5 0M715.5 425.2a0.75 0.75 0 1 0 1.5 0a0.75 0.75 0 1 0 -1.5 0M724.8 425.2a0.75 0.75 0 1 0 1.5 0a0.75 0.75 0 1 0 -1.5 0M701.6 429.9a0.75 0.75 0 1 0 1.5 0a0.75 0.75 0 1 0 -1.5 0M710.9 429.9a0.75 0.75 0 1 0 1.5 0a0.75 0.75 0 1 0 -1.5 0M720.1 429.9a0.75 0.75 0 1 0 1.5 0a0.75 0.75 0 1 0 -1.5 0M706.3 434.5a0.75 0.75 0 1 0 1.5 0a0.75 0.75 0 1 0 -1.5 0M715.5 434.5a0.75 0.75 0 1 0 1.5 0a0.75 0.75 0 1 0 -1.5 0M724.8 434.5a0.75 0.75 0 1 0 1.5 0a0.75 0.75 0 1 0 -1.5 0M701.6 439.1a0.75 0.75 0 1 0 1.5 0a0.75 0.75 0 1 0 -1.5 0M710.9 439.1a0.75 0.75 0 1 0 1.5 0a0.75 0.75 0 1 0 -1.5 0M720.1 439.1a0.75 0.75 0 1 0 1.5 0a0.75 0.75 0 1 0 -1.5 0"/>
<path class="h" d="M698.20 161.30L702.30 157.20M698.20 170.54L711.54 157.20M698.20 179.78L720.78 157.20M698.20 189.02L728.70 158.52M698.20 198.26L728.70 167.76M698.20 207.50L728.70 177.00M698.20 216.74L728.70 186.24M698.20 225.98L728.70 195.48M698.20 235.22L728.70 204.72M698.20 244.46L728.70 213.96M698.20 253.70L728.70 223.20M698.20 262.94L728.70 232.44M698.20 272.18L728.70 241.68M698.20 281.42L728.70 250.92M698.20 290.66L728.70 260.16M698.20 299.90L728.70 269.40M698.20 309.14L728.70 278.64M698.20 318.38L728.70 287.88M698.20 327.62L728.70 297.12M698.20 336.86L728.70 306.36M698.20 346.10L728.70 315.60M698.20 355.34L728.70 324.84M698.20 364.58L728.70 334.08M698.20 373.82L728.70 343.32M698.20 383.06L728.70 352.56M698.20 392.30L728.70 361.80M698.20 401.54L728.70 371.04M698.20 410.78L728.70 380.28M698.20 420.02L728.70 389.52M698.20 429.26L728.70 398.76M698.20 438.50L728.70 408.00M705.24 440.70L728.70 417.24M714.48 440.70L728.70 426.48M723.72 440.70L728.70 435.72"/>
<path class="k" d="M728.7 157.2L698.2 157.2L698.2 453.9L849.6 453.9L849.6 440.8L698.2 440.8" />
<path class="k" d="M728.70 157.20L728.70 440.80" />
<path class="t" d="M698.20 449.60L707.00 440.80M706.20 453.90L719.30 440.80M718.50 453.90L731.60 440.80M730.80 453.90L743.90 440.80M743.10 453.90L756.20 440.80M755.40 453.90L768.50 440.80M767.70 453.90L780.80 440.80M780.00 453.90L793.10 440.80M792.30 453.90L805.40 440.80M804.60 453.90L817.70 440.80M816.90 453.90L830.00 440.80M829.20 453.90L842.30 440.80M841.50 453.90L849.60 445.80"/>
<path class="t" d="M849.60 440.90L923.50 440.90" />
<path class="t" d="M728.70 134.00L728.70 157.20" />
<path class="t" d="M856.60 134.00L856.60 175.80" />
<path class="t" d="M701.00 138.60L884.50 138.60" />
<path class="f" d="M728.70 138.60L714.00 135.60L716.21 138.60L714.00 141.60Z"/>
<path class="f" d="M856.60 138.60L871.30 141.60L869.10 138.60L871.30 135.60Z"/>
<text transform="translate(756.80 135.80) skewX(-12)" font-size="11.5" text-anchor="start" textLength="70.00" lengthAdjust="spacingAndGlyphs" >470 Габарит</text>
<path class="t" d="M857.00 175.80L923.50 175.80" />
<path class="t" d="M839.80 211.40L890.70 211.40" />
<path class="t" d="M837.50 323.30L849.50 323.30" />
<path class="t" d="M845.50 323.40L845.50 440.90" />
<path class="f" d="M845.50 323.40L842.50 338.10L845.50 335.89L848.50 338.10Z"/>
<path class="f" d="M845.50 440.90L848.50 426.20L845.50 428.40L842.50 426.20Z"/>
<path class="t" d="M886.40 211.40L886.40 440.90" />
<path class="f" d="M886.40 211.40L883.40 226.10L886.40 223.90L889.40 226.10Z"/>
<path class="f" d="M886.40 440.90L889.40 426.20L886.40 428.40L883.40 426.20Z"/>
<path class="t" d="M919.30 175.80L919.30 440.90" />
<path class="f" d="M919.30 175.80L916.30 190.50L919.30 188.30L922.30 190.50Z"/>
<path class="f" d="M919.30 440.90L922.30 426.20L919.30 428.40L916.30 426.20Z"/>
<text transform="translate(843.50 423.20) rotate(-90) skewX(-12)" font-size="11.5" text-anchor="start" textLength="86.80" lengthAdjust="spacingAndGlyphs" >Расчёт высоты</text>
<text transform="translate(855.70 416.00) rotate(-90) skewX(-12)" font-size="11.5" text-anchor="start" textLength="73.00" lengthAdjust="spacingAndGlyphs" >при монтаже</text>
<text transform="translate(884.00 388.60) rotate(-90) skewX(-12)" font-size="11.5" text-anchor="start" textLength="164.00" lengthAdjust="spacingAndGlyphs" >Расчёт высоты столешницы</text>
<text transform="translate(896.60 343.80) rotate(-90) skewX(-12)" font-size="11.5" text-anchor="start" textLength="73.00" lengthAdjust="spacingAndGlyphs" >при монтаже</text>
<text transform="translate(916.20 387.30) rotate(-90) skewX(-12)" font-size="11.5" text-anchor="start" textLength="144.40" lengthAdjust="spacingAndGlyphs" >Расчёт высоты раковины</text>
<text transform="translate(929.40 351.30) rotate(-90) skewX(-12)" font-size="11.5" text-anchor="start" textLength="73.00" lengthAdjust="spacingAndGlyphs" >при монтаже</text>
<path class="b" d="M761.00 176.00C763.40 191.80 765.60 199.30 781.40 210.60" style="stroke-width:1.9"/>
<path class="m" d="M764.20 177.30C765.80 190.80 769.40 198.40 778.40 204.80C780.70 206.40 783.20 207.10 787.20 207.10" style="stroke-width:1.5"/>
<path class="b" d="M857.20 176.00C854.80 191.80 852.60 199.30 836.80 210.60" style="stroke-width:1.9"/>
<path class="m" d="M854.00 177.30C852.40 190.80 848.80 198.40 839.80 204.80C837.50 206.40 835.00 207.10 831.00 207.10" style="stroke-width:1.5"/>
<path class="b" d="M760.70 176.00L857.50 176.00" style="stroke-width:2.2;stroke-linecap:butt"/>
<path class="m" d="M765.20 181.90L853.00 181.90" style="stroke-width:1.5"/>
<path class="m" d="M775.40 202.70L842.80 202.70" style="stroke-width:1.9"/>
<path class="m" d="M783.00 205.60L835.20 205.60" style="stroke-width:1.3"/>
<path class="f" d="M784.40 210.60L786.60 207.60C796.75 206.00 801.69 205.00 809.10 205.00C816.51 205.00 821.45 206.00 831.60 207.60L833.80 210.60Z" />
<rect class="f" x="728.70" y="210.40" width="111.10" height="4.40" />
<path class="t" d="M730.2 212.6L838.5 212.6" style="stroke:#8a8a8a;stroke-width:1;stroke-dasharray:9 2.6;stroke-dashoffset:0"/>
<path class="b" d="M729.1 214L729.1 323.2L837.6 323.2" style="stroke-width:1.8"/>
<path class="b" d="M831.8 214L831.8 323.2" style="stroke-width:3.1"/>
<path class="b" d="M836.9 214L836.9 323.9" style="stroke-width:1.8"/>
<path class="m" d="M830.5 214.5L826.8 214.5L826.8 230.7L830.5 230.7" style="stroke-width:1.6"/>
<path class="m" d="M729.5 214.5L733.9 214.5L733.9 236.2L729.5 236.2" />
<rect class="m" x="734.20" y="216.40" width="21.50" height="17.20" style="fill:#fff;stroke-width:1.8"/>
<circle class="f" cx="742.20" cy="229.90" r="1.80" />
<circle class="f" cx="746.79" cy="227.35" r="1.80" />
<circle class="f" cx="746.79" cy="222.25" r="1.80" />
<circle class="f" cx="742.20" cy="219.70" r="1.80" />
<circle class="f" cx="737.61" cy="222.25" r="1.80" />
<circle class="f" cx="737.61" cy="227.35" r="1.80" />
<path class="m" style="stroke-width:1.2" d="M746.79 227.35L746.79 222.25" stroke-dasharray="1.6 2 1.6 20"/>
<path class="m" style="stroke-width:1.5" d="M751.20 221.20Q754.20 224.80 751.20 228.60"/>
<circle class="f" cx="753.00" cy="219.40" r="1.00" />
<circle class="f" cx="753.30" cy="230.40" r="0.80" style="fill:#555"/>
<path d="M735.20 232.00L754.70 232.00" stroke="#6a6a6a" stroke-width="1.5" stroke-dasharray="6 1.8" fill="none"/>
<path class="bb" d="M714.5 225L736 225" style="stroke-width:3.6"/>
<path class="bb" d="M710 326.9L729.5 326.9" style="stroke-width:3.7"/>
<path class="b" d="M729.60 323.00L729.60 330.60" style="stroke-width:2.2"/>
<path class="b" d="M739.2 313.4L739.2 264.6" style="stroke-width:2.6"/>
<path class="b" d="M738 264.7L830.5 264.7" style="stroke-width:2"/>
<path class="m" d="M744.2 264.7L744.2 305.2" style="stroke-width:1.8"/>
<path class="m" d="M738.6 277.4L744.2 277.4M738.6 291.2L744.2 291.2" style="stroke-width:1.8"/>
<path class="b" d="M738.60 305.20L830.50 305.20" />
<rect class="f" x="738.60" y="309.00" width="91.90" height="4.70" />
<path class="t" d="M740.5 311.9L802.5 311.9" style="stroke:#999;stroke-width:.9"/>
<path class="m" d="M821.80 313.00L821.80 317.60" style="stroke-width:1.6"/>
<rect class="w" x="823.5" y="314.2" width="6.5" height="3"/>
<path class="m" d="M729.5 296.2L733.8 296.2L733.8 318.2L830.5 318.2" style="stroke-width:1.5"/>
<path class="dot" d="M370.8 496.6a0.75 0.75 0 1 0 1.5 0a0.75 0.75 0 1 0 -1.5 0M380.1 496.6a0.75 0.75 0 1 0 1.5 0a0.75 0.75 0 1 0 -1.5 0M389.3 496.6a0.75 0.75 0 1 0 1.5 0a0.75 0.75 0 1 0 -1.5 0M398.5 496.6a0.75 0.75 0 1 0 1.5 0a0.75 0.75 0 1 0 -1.5 0M407.8 496.6a0.75 0.75 0 1 0 1.5 0a0.75 0.75 0 1 0 -1.5 0M417.0 496.6a0.75 0.75 0 1 0 1.5 0a0.75 0.75 0 1 0 -1.5 0M426.2 496.6a0.75 0.75 0 1 0 1.5 0a0.75 0.75 0 1 0 -1.5 0M435.5 496.6a0.75 0.75 0 1 0 1.5 0a0.75 0.75 0 1 0 -1.5 0M444.7 496.6a0.75 0.75 0 1 0 1.5 0a0.75 0.75 0 1 0 -1.5 0M454.0 496.6a0.75 0.75 0 1 0 1.5 0a0.75 0.75 0 1 0 -1.5 0M463.2 496.6a0.75 0.75 0 1 0 1.5 0a0.75 0.75 0 1 0 -1.5 0M472.5 496.6a0.75 0.75 0 1 0 1.5 0a0.75 0.75 0 1 0 -1.5 0M481.7 496.6a0.75 0.75 0 1 0 1.5 0a0.75 0.75 0 1 0 -1.5 0M490.9 496.6a0.75 0.75 0 1 0 1.5 0a0.75 0.75 0 1 0 -1.5 0M500.2 496.6a0.75 0.75 0 1 0 1.5 0a0.75 0.75 0 1 0 -1.5 0M509.4 496.6a0.75 0.75 0 1 0 1.5 0a0.75 0.75 0 1 0 -1.5 0M518.6 496.6a0.75 0.75 0 1 0 1.5 0a0.75 0.75 0 1 0 -1.5 0M527.9 496.6a0.75 0.75 0 1 0 1.5 0a0.75 0.75 0 1 0 -1.5 0M537.1 496.6a0.75 0.75 0 1 0 1.5 0a0.75 0.75 0 1 0 -1.5 0M546.4 496.6a0.75 0.75 0 1 0 1.5 0a0.75 0.75 0 1 0 -1.5 0M366.2 501.2a0.75 0.75 0 1 0 1.5 0a0.75 0.75 0 1 0 -1.5 0M375.4 501.2a0.75 0.75 0 1 0 1.5 0a0.75 0.75 0 1 0 -1.5 0M384.7 501.2a0.75 0.75 0 1 0 1.5 0a0.75 0.75 0 1 0 -1.5 0M393.9 501.2a0.75 0.75 0 1 0 1.5 0a0.75 0.75 0 1 0 -1.5 0M403.2 501.2a0.75 0.75 0 1 0 1.5 0a0.75 0.75 0 1 0 -1.5 0M412.4 501.2a0.75 0.75 0 1 0 1.5 0a0.75 0.75 0 1 0 -1.5 0M421.6 501.2a0.75 0.75 0 1 0 1.5 0a0.75 0.75 0 1 0 -1.5 0M430.9 501.2a0.75 0.75 0 1 0 1.5 0a0.75 0.75 0 1 0 -1.5 0M440.1 501.2a0.75 0.75 0 1 0 1.5 0a0.75 0.75 0 1 0 -1.5 0M449.4 501.2a0.75 0.75 0 1 0 1.5 0a0.75 0.75 0 1 0 -1.5 0M458.6 501.2a0.75 0.75 0 1 0 1.5 0a0.75 0.75 0 1 0 -1.5 0M467.8 501.2a0.75 0.75 0 1 0 1.5 0a0.75 0.75 0 1 0 -1.5 0M477.1 501.2a0.75 0.75 0 1 0 1.5 0a0.75 0.75 0 1 0 -1.5 0M486.3 501.2a0.75 0.75 0 1 0 1.5 0a0.75 0.75 0 1 0 -1.5 0M495.6 501.2a0.75 0.75 0 1 0 1.5 0a0.75 0.75 0 1 0 -1.5 0M504.8 501.2a0.75 0.75 0 1 0 1.5 0a0.75 0.75 0 1 0 -1.5 0M514.0 501.2a0.75 0.75 0 1 0 1.5 0a0.75 0.75 0 1 0 -1.5 0M523.3 501.2a0.75 0.75 0 1 0 1.5 0a0.75 0.75 0 1 0 -1.5 0M532.5 501.2a0.75 0.75 0 1 0 1.5 0a0.75 0.75 0 1 0 -1.5 0M541.8 501.2a0.75 0.75 0 1 0 1.5 0a0.75 0.75 0 1 0 -1.5 0M551.0 501.2a0.75 0.75 0 1 0 1.5 0a0.75 0.75 0 1 0 -1.5 0M370.8 505.8a0.75 0.75 0 1 0 1.5 0a0.75 0.75 0 1 0 -1.5 0M380.1 505.8a0.75 0.75 0 1 0 1.5 0a0.75 0.75 0 1 0 -1.5 0M389.3 505.8a0.75 0.75 0 1 0 1.5 0a0.75 0.75 0 1 0 -1.5 0M398.5 505.8a0.75 0.75 0 1 0 1.5 0a0.75 0.75 0 1 0 -1.5 0M407.8 505.8a0.75 0.75 0 1 0 1.5 0a0.75 0.75 0 1 0 -1.5 0M417.0 505.8a0.75 0.75 0 1 0 1.5 0a0.75 0.75 0 1 0 -1.5 0M426.2 505.8a0.75 0.75 0 1 0 1.5 0a0.75 0.75 0 1 0 -1.5 0M435.5 505.8a0.75 0.75 0 1 0 1.5 0a0.75 0.75 0 1 0 -1.5 0M444.7 505.8a0.75 0.75 0 1 0 1.5 0a0.75 0.75 0 1 0 -1.5 0M454.0 505.8a0.75 0.75 0 1 0 1.5 0a0.75 0.75 0 1 0 -1.5 0M463.2 505.8a0.75 0.75 0 1 0 1.5 0a0.75 0.75 0 1 0 -1.5 0M472.5 505.8a0.75 0.75 0 1 0 1.5 0a0.75 0.75 0 1 0 -1.5 0M481.7 505.8a0.75 0.75 0 1 0 1.5 0a0.75 0.75 0 1 0 -1.5 0M490.9 505.8a0.75 0.75 0 1 0 1.5 0a0.75 0.75 0 1 0 -1.5 0M500.2 505.8a0.75 0.75 0 1 0 1.5 0a0.75 0.75 0 1 0 -1.5 0M509.4 505.8a0.75 0.75 0 1 0 1.5 0a0.75 0.75 0 1 0 -1.5 0M518.6 505.8a0.75 0.75 0 1 0 1.5 0a0.75 0.75 0 1 0 -1.5 0M527.9 505.8a0.75 0.75 0 1 0 1.5 0a0.75 0.75 0 1 0 -1.5 0M537.1 505.8a0.75 0.75 0 1 0 1.5 0a0.75 0.75 0 1 0 -1.5 0M546.4 505.8a0.75 0.75 0 1 0 1.5 0a0.75 0.75 0 1 0 -1.5 0M366.2 510.5a0.75 0.75 0 1 0 1.5 0a0.75 0.75 0 1 0 -1.5 0M375.4 510.5a0.75 0.75 0 1 0 1.5 0a0.75 0.75 0 1 0 -1.5 0M384.7 510.5a0.75 0.75 0 1 0 1.5 0a0.75 0.75 0 1 0 -1.5 0M393.9 510.5a0.75 0.75 0 1 0 1.5 0a0.75 0.75 0 1 0 -1.5 0M403.2 510.5a0.75 0.75 0 1 0 1.5 0a0.75 0.75 0 1 0 -1.5 0M412.4 510.5a0.75 0.75 0 1 0 1.5 0a0.75 0.75 0 1 0 -1.5 0M421.6 510.5a0.75 0.75 0 1 0 1.5 0a0.75 0.75 0 1 0 -1.5 0M430.9 510.5a0.75 0.75 0 1 0 1.5 0a0.75 0.75 0 1 0 -1.5 0M440.1 510.5a0.75 0.75 0 1 0 1.5 0a0.75 0.75 0 1 0 -1.5 0M449.4 510.5a0.75 0.75 0 1 0 1.5 0a0.75 0.75 0 1 0 -1.5 0M458.6 510.5a0.75 0.75 0 1 0 1.5 0a0.75 0.75 0 1 0 -1.5 0M467.8 510.5a0.75 0.75 0 1 0 1.5 0a0.75 0.75 0 1 0 -1.5 0M477.1 510.5a0.75 0.75 0 1 0 1.5 0a0.75 0.75 0 1 0 -1.5 0M486.3 510.5a0.75 0.75 0 1 0 1.5 0a0.75 0.75 0 1 0 -1.5 0M495.6 510.5a0.75 0.75 0 1 0 1.5 0a0.75 0.75 0 1 0 -1.5 0M504.8 510.5a0.75 0.75 0 1 0 1.5 0a0.75 0.75 0 1 0 -1.5 0M514.0 510.5a0.75 0.75 0 1 0 1.5 0a0.75 0.75 0 1 0 -1.5 0M523.3 510.5a0.75 0.75 0 1 0 1.5 0a0.75 0.75 0 1 0 -1.5 0M532.5 510.5a0.75 0.75 0 1 0 1.5 0a0.75 0.75 0 1 0 -1.5 0M541.8 510.5a0.75 0.75 0 1 0 1.5 0a0.75 0.75 0 1 0 -1.5 0M551.0 510.5a0.75 0.75 0 1 0 1.5 0a0.75 0.75 0 1 0 -1.5 0M370.8 515.1a0.75 0.75 0 1 0 1.5 0a0.75 0.75 0 1 0 -1.5 0M380.1 515.1a0.75 0.75 0 1 0 1.5 0a0.75 0.75 0 1 0 -1.5 0M389.3 515.1a0.75 0.75 0 1 0 1.5 0a0.75 0.75 0 1 0 -1.5 0M398.5 515.1a0.75 0.75 0 1 0 1.5 0a0.75 0.75 0 1 0 -1.5 0M407.8 515.1a0.75 0.75 0 1 0 1.5 0a0.75 0.75 0 1 0 -1.5 0M417.0 515.1a0.75 0.75 0 1 0 1.5 0a0.75 0.75 0 1 0 -1.5 0M426.2 515.1a0.75 0.75 0 1 0 1.5 0a0.75 0.75 0 1 0 -1.5 0M435.5 515.1a0.75 0.75 0 1 0 1.5 0a0.75 0.75 0 1 0 -1.5 0M444.7 515.1a0.75 0.75 0 1 0 1.5 0a0.75 0.75 0 1 0 -1.5 0M454.0 515.1a0.75 0.75 0 1 0 1.5 0a0.75 0.75 0 1 0 -1.5 0M463.2 515.1a0.75 0.75 0 1 0 1.5 0a0.75 0.75 0 1 0 -1.5 0M472.5 515.1a0.75 0.75 0 1 0 1.5 0a0.75 0.75 0 1 0 -1.5 0M481.7 515.1a0.75 0.75 0 1 0 1.5 0a0.75 0.75 0 1 0 -1.5 0M490.9 515.1a0.75 0.75 0 1 0 1.5 0a0.75 0.75 0 1 0 -1.5 0M500.2 515.1a0.75 0.75 0 1 0 1.5 0a0.75 0.75 0 1 0 -1.5 0M509.4 515.1a0.75 0.75 0 1 0 1.5 0a0.75 0.75 0 1 0 -1.5 0M518.6 515.1a0.75 0.75 0 1 0 1.5 0a0.75 0.75 0 1 0 -1.5 0M527.9 515.1a0.75 0.75 0 1 0 1.5 0a0.75 0.75 0 1 0 -1.5 0M537.1 515.1a0.75 0.75 0 1 0 1.5 0a0.75 0.75 0 1 0 -1.5 0M546.4 515.1a0.75 0.75 0 1 0 1.5 0a0.75 0.75 0 1 0 -1.5 0M366.2 519.7a0.75 0.75 0 1 0 1.5 0a0.75 0.75 0 1 0 -1.5 0M375.4 519.7a0.75 0.75 0 1 0 1.5 0a0.75 0.75 0 1 0 -1.5 0M384.7 519.7a0.75 0.75 0 1 0 1.5 0a0.75 0.75 0 1 0 -1.5 0M393.9 519.7a0.75 0.75 0 1 0 1.5 0a0.75 0.75 0 1 0 -1.5 0M403.2 519.7a0.75 0.75 0 1 0 1.5 0a0.75 0.75 0 1 0 -1.5 0M412.4 519.7a0.75 0.75 0 1 0 1.5 0a0.75 0.75 0 1 0 -1.5 0M421.6 519.7a0.75 0.75 0 1 0 1.5 0a0.75 0.75 0 1 0 -1.5 0M430.9 519.7a0.75 0.75 0 1 0 1.5 0a0.75 0.75 0 1 0 -1.5 0M440.1 519.7a0.75 0.75 0 1 0 1.5 0a0.75 0.75 0 1 0 -1.5 0M449.4 519.7a0.75 0.75 0 1 0 1.5 0a0.75 0.75 0 1 0 -1.5 0M458.6 519.7a0.75 0.75 0 1 0 1.5 0a0.75 0.75 0 1 0 -1.5 0M467.8 519.7a0.75 0.75 0 1 0 1.5 0a0.75 0.75 0 1 0 -1.5 0M477.1 519.7a0.75 0.75 0 1 0 1.5 0a0.75 0.75 0 1 0 -1.5 0M486.3 519.7a0.75 0.75 0 1 0 1.5 0a0.75 0.75 0 1 0 -1.5 0M495.6 519.7a0.75 0.75 0 1 0 1.5 0a0.75 0.75 0 1 0 -1.5 0M504.8 519.7a0.75 0.75 0 1 0 1.5 0a0.75 0.75 0 1 0 -1.5 0M514.0 519.7a0.75 0.75 0 1 0 1.5 0a0.75 0.75 0 1 0 -1.5 0M523.3 519.7a0.75 0.75 0 1 0 1.5 0a0.75 0.75 0 1 0 -1.5 0M532.5 519.7a0.75 0.75 0 1 0 1.5 0a0.75 0.75 0 1 0 -1.5 0M541.8 519.7a0.75 0.75 0 1 0 1.5 0a0.75 0.75 0 1 0 -1.5 0M551.0 519.7a0.75 0.75 0 1 0 1.5 0a0.75 0.75 0 1 0 -1.5 0"/>
<path class="h" d="M362.40 500.05L370.25 492.20M362.40 509.28L379.48 492.20M362.40 518.51L388.71 492.20M367.74 522.40L397.94 492.20M376.97 522.40L407.17 492.20M386.20 522.40L416.40 492.20M395.43 522.40L425.63 492.20M404.66 522.40L434.86 492.20M413.89 522.40L444.09 492.20M423.12 522.40L453.32 492.20M432.35 522.40L462.55 492.20M441.58 522.40L471.78 492.20M450.81 522.40L481.01 492.20M460.04 522.40L490.24 492.20M469.27 522.40L499.47 492.20M478.50 522.40L508.70 492.20M487.73 522.40L517.93 492.20M496.96 522.40L527.16 492.20M506.19 522.40L536.39 492.20M515.42 522.40L545.62 492.20M524.65 522.40L554.85 492.20M533.88 522.40L554.90 501.38M543.11 522.40L554.90 510.61M552.34 522.40L554.90 519.84"/>
<path d="M481.2 492.8L466.6 521.4" stroke="#fff" stroke-width="6.5" fill="none"/>
<rect class="k" x="362.40" y="492.20" width="192.50" height="30.20" />
<path class="bb" d="M383.9 508.2L383.9 522.4" style="stroke-width:3.6"/>
<path class="bb" d="M431.8 503.2L431.8 522.4" style="stroke-width:3.6"/>
<path class="bb" d="M486.0 503.2L486.0 522.4" style="stroke-width:3.6"/>
<path class="bb" d="M533.7 508.2L533.7 522.4" style="stroke-width:3.6"/>
<path class="b" d="M393.5 632.6L362.4 632.6L362.4 522.4L554.9 522.4L554.9 632.6L524.5 632.6" />
<path class="t" d="M393.50 632.60L524.50 632.60" />
<path class="bb" d="M532.90 602.40L532.77 607.08L532.37 610.78L531.70 614.16L530.77 617.33L529.58 620.32L528.12 623.16L526.41 625.86L524.45 628.42L522.24 630.84L519.79 633.12L517.09 635.26L514.16 637.26L511.00 639.11L507.61 640.81L504.00 642.36L500.17 643.76L496.12 645.00L491.86 646.08L487.36 647.00L482.62 647.75L477.61 648.34L472.26 648.76L466.40 649.02L459.00 649.10L451.60 649.02L445.74 648.76L440.39 648.34L435.38 647.75L430.64 647.00L426.14 646.08L421.88 645.00L417.83 643.76L414.00 642.36L410.39 640.81L407.00 639.11L403.84 637.26L400.91 635.26L398.21 633.12L395.76 630.84L393.55 628.42L391.59 625.86L389.88 623.16L388.42 620.32L387.23 617.33L386.30 614.16L385.63 610.78L385.23 607.08L385.10 602.40L385.23 597.72L385.63 594.02L386.30 590.64L387.23 587.47L388.42 584.48L389.88 581.64L391.59 578.94L393.55 576.38L395.76 573.96L398.21 571.68L400.91 569.54L403.84 567.54L407.00 565.69L410.39 563.99L414.00 562.44L417.83 561.04L421.88 559.80L426.14 558.72L430.64 557.80L435.38 557.05L440.39 556.46L445.74 556.04L451.60 555.78L459.00 555.70L466.40 555.78L472.26 556.04L477.61 556.46L482.62 557.05L487.36 557.80L491.86 558.72L496.12 559.80L500.17 561.04L504.00 562.44L507.61 563.99L511.00 565.69L514.16 567.54L517.09 569.54L519.79 571.68L522.24 573.96L524.45 576.38L526.41 578.94L528.12 581.64L529.58 584.48L530.77 587.47L531.70 590.64L532.37 594.02L532.77 597.72Z" style="fill:#fff;stroke-width:3"/>
<path class="m" d="M529.50 602.75L529.37 607.18L528.99 610.66L528.36 613.82L527.48 616.77L526.36 619.56L524.98 622.20L523.36 624.70L521.50 627.08L519.41 629.32L517.08 631.43L514.53 633.41L511.75 635.26L508.75 636.97L505.54 638.55L502.11 639.98L498.47 641.27L494.62 642.42L490.56 643.41L486.27 644.26L481.75 644.96L476.96 645.50L471.83 645.89L466.20 646.12L459.00 646.20L451.80 646.12L446.17 645.89L441.04 645.50L436.25 644.96L431.73 644.26L427.44 643.41L423.38 642.42L419.53 641.27L415.89 639.98L412.46 638.55L409.25 636.97L406.25 635.26L403.47 633.41L400.92 631.43L398.59 629.32L396.50 627.08L394.64 624.70L393.02 622.20L391.64 619.56L390.52 616.77L389.64 613.82L389.01 610.66L388.63 607.18L388.50 602.75L388.63 598.32L389.01 594.84L389.64 591.68L390.52 588.73L391.64 585.94L393.02 583.30L394.64 580.80L396.50 578.42L398.59 576.18L400.92 574.07L403.47 572.09L406.25 570.24L409.25 568.53L412.46 566.95L415.89 565.52L419.53 564.23L423.38 563.08L427.44 562.09L431.73 561.24L436.25 560.54L441.04 560.00L446.17 559.61L451.80 559.38L459.00 559.30L466.20 559.38L471.83 559.61L476.96 560.00L481.75 560.54L486.27 561.24L490.56 562.09L494.62 563.08L498.47 564.23L502.11 565.52L505.54 566.95L508.75 568.53L511.75 570.24L514.53 572.09L517.08 574.07L519.41 576.18L521.50 578.42L523.36 580.80L524.98 583.30L526.36 585.94L527.48 588.73L528.36 591.68L528.99 594.84L529.37 598.32Z" style="stroke-width:1.3"/>
<path class="b" d="M521.25 602.80L521.14 606.53L520.82 609.32L520.28 611.83L519.53 614.15L518.56 616.32L517.38 618.37L516.00 620.31L514.41 622.14L512.61 623.86L510.61 625.48L508.41 627.00L506.02 628.41L503.43 629.71L500.65 630.91L497.68 631.99L494.51 632.97L491.16 633.84L487.60 634.59L483.83 635.24L479.84 635.76L475.57 636.17L470.97 636.46L465.84 636.64L459.00 636.70L452.16 636.64L447.03 636.46L442.43 636.17L438.16 635.76L434.17 635.24L430.40 634.59L426.84 633.84L423.49 632.97L420.32 631.99L417.35 630.91L414.57 629.71L411.98 628.41L409.59 627.00L407.39 625.48L405.39 623.86L403.59 622.14L402.00 620.31L400.62 618.37L399.44 616.32L398.47 614.15L397.72 611.83L397.18 609.32L396.86 606.53L396.75 602.80L396.86 599.07L397.18 596.28L397.72 593.77L398.47 591.45L399.44 589.28L400.62 587.23L402.00 585.29L403.59 583.46L405.39 581.74L407.39 580.12L409.59 578.60L411.98 577.19L414.57 575.89L417.35 574.69L420.32 573.61L423.49 572.63L426.84 571.76L430.40 571.01L434.17 570.36L438.16 569.84L442.43 569.43L447.03 569.14L452.16 568.96L459.00 568.90L465.84 568.96L470.97 569.14L475.57 569.43L479.84 569.84L483.83 570.36L487.60 571.01L491.16 571.76L494.51 572.63L497.68 573.61L500.65 574.69L503.43 575.89L506.02 577.19L508.41 578.60L510.61 580.12L512.61 581.74L514.41 583.46L516.00 585.29L517.38 587.23L518.56 589.28L519.53 591.45L520.28 593.77L520.82 596.28L521.14 599.07Z" style="stroke-width:1.9"/>
<path class="b" d="M513.75 602.70L513.66 605.81L513.37 608.11L512.91 610.17L512.25 612.06L511.41 613.83L510.39 615.50L509.18 617.07L507.80 618.55L506.23 619.95L504.49 621.26L502.58 622.48L500.49 623.62L498.24 624.67L495.81 625.63L493.21 626.51L490.45 627.30L487.51 628.00L484.39 628.61L481.08 629.12L477.57 629.55L473.81 629.87L469.74 630.11L465.18 630.25L459.00 630.30L452.82 630.25L448.26 630.11L444.19 629.87L440.43 629.55L436.92 629.12L433.61 628.61L430.49 628.00L427.55 627.30L424.79 626.51L422.19 625.63L419.76 624.67L417.51 623.62L415.42 622.48L413.51 621.26L411.77 619.95L410.20 618.55L408.82 617.07L407.61 615.50L406.59 613.83L405.75 612.06L405.09 610.17L404.63 608.11L404.34 605.81L404.25 602.70L404.34 599.59L404.63 597.29L405.09 595.23L405.75 593.34L406.59 591.57L407.61 589.90L408.82 588.33L410.20 586.85L411.77 585.45L413.51 584.14L415.42 582.92L417.51 581.78L419.76 580.73L422.19 579.77L424.79 578.89L427.55 578.10L430.49 577.40L433.61 576.79L436.92 576.28L440.43 575.85L444.19 575.53L448.26 575.29L452.82 575.15L459.00 575.10L465.18 575.15L469.74 575.29L473.81 575.53L477.57 575.85L481.08 576.28L484.39 576.79L487.51 577.40L490.45 578.10L493.21 578.89L495.81 579.77L498.24 580.73L500.49 581.78L502.58 582.92L504.49 584.14L506.23 585.45L507.80 586.85L509.18 588.33L510.39 589.90L511.41 591.57L512.25 593.34L512.91 595.23L513.37 597.29L513.66 599.59Z" style="stroke-width:1.9"/>
<path class="t" d="M391.50 632.90L526.50 632.90" style="stroke:#8c8c8c;stroke-width:1.5"/>
<circle class="b" cx="458.75" cy="602.80" r="11.00" style="stroke-width:2.6"/>
<circle class="m" cx="458.75" cy="602.80" r="7.00" style="stroke-width:2"/>
<path class="t" d="M459.00 603.00L596.30 603.00" />
<circle class="b" cx="458.60" cy="538.80" r="4.75" style="fill:#fff;stroke-width:1.9"/>
<path class="f" d="M454.2 538.6A4.4 4.4 0 0 1 463 538.6Z" style="fill:#3a3a3a"/>
<ellipse class="w" cx="457.3" cy="535.9" rx="1.5" ry="0.8" transform="rotate(-20 457.3 535.9)"/>
<ellipse class="w" cx="460.8" cy="536.6" rx="0.9" ry="0.5" style="fill:#aaa"/>
<path class="t" d="M463.00 538.80L582.00 538.80" />
<path class="b" d="M454.00 538.60L463.20 538.60" style="stroke-width:1.7"/>
<path class="b" d="M461.70 531.30L459.60 536.40" style="stroke-width:1.8"/>
<path class="t" d="M636.7 486.2L484.6 486.2L461.7 531.2" />
<circle class="f" cx="461.80" cy="531.10" r="1.70" />
<text transform="translate(486.60 482.70) skewX(-12)" font-size="11.5" text-anchor="start" textLength="151.00" lengthAdjust="spacingAndGlyphs" >Отверстие под смеситель</text>
<path class="t" d="M554.90 522.40L624.70 522.40" />
<path class="t" d="M554.90 632.60L624.70 632.60" />
<path class="t" d="M577.30 517.50L577.30 543.00" />
<path class="k" d="M574.80 518.20L579.80 526.60" />
<path class="k" d="M574.80 534.60L579.80 543.00" />
<path class="t" d="M592.50 494.90L592.50 636.50" />
<path class="k" d="M590.00 518.20L595.00 526.60" />
<path class="k" d="M590.00 598.80L595.00 607.20" />
<path class="k" d="M590.00 628.40L595.00 636.80" />
<path class="t" d="M620.50 494.90L620.50 660.70" />
<path class="f" d="M620.50 522.40L623.50 507.70L620.50 509.90L617.50 507.70Z"/>
<path class="f" d="M620.50 632.60L617.50 647.30L620.50 645.10L623.50 647.30Z"/>
<text transform="translate(574.80 536.20) rotate(-90) skewX(-12)" font-size="11.5" text-anchor="start" textLength="12.60" lengthAdjust="spacingAndGlyphs" >60</text>
<text transform="translate(589.30 569.00) rotate(-90) skewX(-12)" font-size="11.5" text-anchor="start" textLength="19.00" lengthAdjust="spacingAndGlyphs" >295</text>
<text transform="translate(589.30 627.60) rotate(-90) skewX(-12)" font-size="11.5" text-anchor="start" textLength="18.70" lengthAdjust="spacingAndGlyphs" >110</text>
<text transform="translate(617.50 608.30) rotate(-90) skewX(-12)" font-size="11.5" text-anchor="start" textLength="70.00" lengthAdjust="spacingAndGlyphs" >405 Габарит</text>
<path class="t" d="M362.40 632.60L362.40 675.00" />
<path class="t" d="M554.90 632.60L554.90 675.00" />
<path class="t" d="M362.40 671.10L554.90 671.10" />
<path class="f" d="M362.40 671.10L377.10 674.10L374.89 671.10L377.10 668.10Z"/>
<path class="f" d="M554.90 671.10L540.20 668.10L542.40 671.10L540.20 674.10Z"/>
<text transform="translate(419.40 668.00) skewX(-12)" font-size="11.5" text-anchor="start" textLength="70.40" lengthAdjust="spacingAndGlyphs" >704 Габарит</text>
</svg>
</body>
</html>
